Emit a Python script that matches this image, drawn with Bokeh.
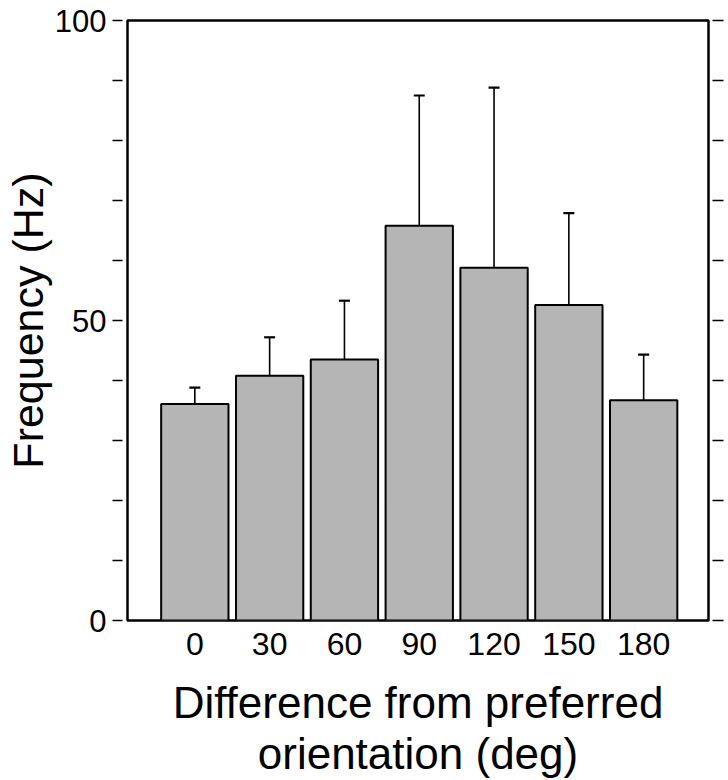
from bokeh.plotting import figure
from bokeh.models import Range1d, FixedTicker, LinearAxis, Whisker, TeeHead, ColumnDataSource
from bokeh.embed import file_html
from bokeh.resources import INLINE

# Data
orientation = [0, 30, 60, 90, 120, 150, 180]
freq_mean = [36.1, 40.8, 43.5, 65.8, 58.8, 52.6, 36.7]
freq_err = [2.7, 6.4, 9.8, 21.7, 30.0, 15.3, 7.6]
y_ticks = [0, 10, 20, 30, 40, 50, 60, 70, 80, 90, 100]
y_tick_labels = {0: "0", 50: "50", 100: "100"}
x_ticks = orientation

FONT = "Liberation Sans"

src = ColumnDataSource(dict(
    x=orientation,
    top=freq_mean,
    upper=[m + e for m, e in zip(freq_mean, freq_err)],
))

p = figure(width=724, height=780, output_backend="svg", toolbar_location=None,
           x_range=Range1d(-27, 206), y_range=Range1d(0, 100),
           min_border_left=127, min_border_right=16, min_border_top=20,
           min_border_bottom=160)

p.xgrid.visible = False
p.ygrid.visible = False
p.outline_line_color = "black"
p.outline_line_width = 2.5
p.background_fill_color = "white"
p.border_fill_color = "white"

p.vbar(x="x", top="top", bottom=0, width=27, source=src,
       fill_color="#b5b5b5", line_color="black", line_width=2)

p.add_layout(Whisker(base="x", lower="top", upper="upper", source=src,
                     line_color="black", line_width=1.6,
                     lower_head=None,
                     upper_head=TeeHead(size=11, line_color="black", line_width=2.2)))

# Left axis
ya = p.yaxis[0]
ya.ticker = FixedTicker(ticks=y_ticks)
ya.major_label_overrides = {t: y_tick_labels.get(t, "") for t in y_ticks}
ya.axis_line_color = None
ya.major_tick_in = 0
ya.major_tick_out = 15
ya.major_tick_line_width = 1.5
ya.major_tick_line_dash = "10 10"
ya.minor_tick_line_color = None
ya.major_label_standoff = 6
ya.major_label_text_font = FONT
ya.major_label_text_font_size = "31px"
ya.major_label_text_color = "black"
ya.axis_label = "Frequency (Hz)"
ya.axis_label_text_font = FONT
ya.axis_label_text_font_size = "43px"
ya.axis_label_text_font_style = "normal"
ya.axis_label_text_color = "black"
ya.axis_label_standoff = 0

# Right axis (ticks only)
ra = LinearAxis(ticker=FixedTicker(ticks=y_ticks))
ra.major_label_overrides = {t: "" for t in y_ticks}
ra.major_label_text_font_size = "1px"
ra.axis_line_color = None
ra.major_tick_in = 0
ra.major_tick_out = 15
ra.major_tick_line_width = 1.5
ra.major_tick_line_dash = "11 10"
ra.minor_tick_line_color = None
p.add_layout(ra, "right")

# Bottom axis
xa = p.xaxis[0]
xa.ticker = FixedTicker(ticks=x_ticks)
xa.axis_line_color = None
xa.major_tick_in = 0
xa.major_tick_out = 0
xa.minor_tick_line_color = None
xa.major_label_standoff = 12
xa.major_label_text_font = FONT
xa.major_label_text_font_size = "32px"
xa.major_label_text_color = "black"
xa.axis_label = "Difference from preferred\norientation (deg)"
xa.axis_label_text_font = FONT
xa.axis_label_text_font_size = "44px"
xa.axis_label_text_font_style = "normal"
xa.axis_label_text_color = "black"
xa.axis_label_text_line_height = 1.05
xa.axis_label_standoff = 20

open("out.html", "w").write(file_html(p, INLINE))
